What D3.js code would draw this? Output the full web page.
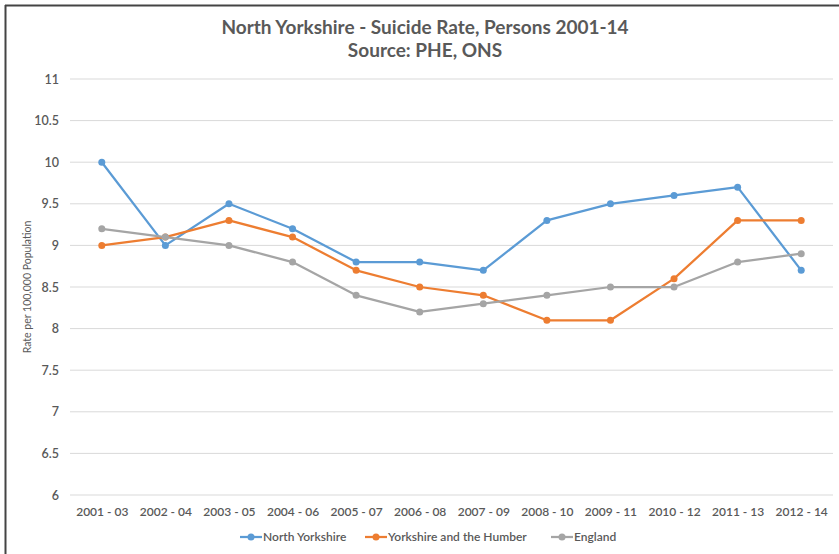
<!DOCTYPE html>
<html>
<head>
<meta charset="utf-8">
<script src="https://cdn.jsdelivr.net/npm/d3@7"></script>
<style>
  html, body { margin: 0; padding: 0; background: #fff; }
  svg { display: block; }
  text { font-family: Lato, "Open Sans", sans-serif; }
</style>
</head>
<body>
<svg id="chart" width="839" height="554"></svg>
<script>
// Rolling three-year periods
const periods = ["2001 - 03", "2002 - 04", "2003 - 05", "2004 - 06", "2005 - 07", "2006 - 08",
                 "2007 - 09", "2008 - 10", "2009 - 11", "2010 - 12", "2011 - 13", "2012 - 14"];

// Suicide rate per 100,000 population
const northYorkshire = [10.0, 9.0, 9.5, 9.2, 8.8, 8.8, 8.7, 9.3, 9.5, 9.6, 9.7, 8.7];
const yorkshireHumber = [9.0, 9.1, 9.3, 9.1, 8.7, 8.5, 8.4, 8.1, 8.1, 8.6, 9.3, 9.3];
const england = [9.2, 9.1, 9.0, 8.8, 8.4, 8.2, 8.3, 8.4, 8.5, 8.5, 8.8, 8.9];

const seriesNames = ["North Yorkshire", "Yorkshire and the Humber", "England"];
const yTicks = [6, 6.5, 7, 7.5, 8, 8.5, 9, 9.5, 10, 10.5, 11];

const series = [
  { name: seriesNames[0], values: northYorkshire, color: "#5B9BD5" },
  { name: seriesNames[1], values: yorkshireHumber, color: "#ED7D31" },
  { name: seriesNames[2], values: england, color: "#A5A5A5" }
];

const svg = d3.select("#chart");
const W = 839, H = 554;
const plot = { left: 70, right: 833, top: 79, bottom: 495 };
const textColor = "#595959";

// Frame lines on top and left
svg.append("line").attr("x1", 5).attr("x2", W).attr("y1", 5.5).attr("y2", 5.5)
  .attr("stroke", "#444").attr("stroke-width", 2);
svg.append("line").attr("x1", 5.5).attr("x2", 5.5).attr("y1", 5).attr("y2", H)
  .attr("stroke", "#444").attr("stroke-width", 2);

// Title
svg.append("text").attr("x", 425).attr("y", 34).attr("text-anchor", "middle")
  .attr("font-size", 19).attr("font-weight", "bold").attr("fill", textColor)
  .text("North Yorkshire - Suicide Rate, Persons 2001-14");
svg.append("text").attr("x", 425).attr("y", 57).attr("text-anchor", "middle")
  .attr("font-size", 19).attr("font-weight", "bold").attr("fill", textColor)
  .text("Source: PHE, ONS");

const x = d3.scalePoint().domain(periods).range([plot.left, plot.right]).padding(0.5);
const y = d3.scaleLinear().domain([6, 11]).range([plot.bottom, plot.top]);

// Gridlines
svg.append("g").selectAll("line").data(yTicks).join("line")
  .attr("x1", plot.left).attr("x2", plot.right)
  .attr("y1", d => y(d)).attr("y2", d => y(d))
  .attr("stroke", "#D9D9D9").attr("stroke-width", 1);

// Y axis labels
const yAxis = d3.axisLeft(y).tickValues(yTicks).tickSize(0).tickPadding(0).tickFormat(d3.format("~g"));
const gy = svg.append("g").attr("transform", `translate(${59},0)`).call(yAxis);
gy.select(".domain").remove();
gy.selectAll("text").attr("font-size", 12.5).attr("font-weight", 600)
  .attr("fill", textColor).attr("font-family", "Lato, sans-serif");

// X axis labels
const xAxis = d3.axisBottom(x).tickSize(0).tickPadding(0);
const gx = svg.append("g").attr("transform", `translate(0,${507})`).call(xAxis);
gx.select(".domain").remove();
gx.selectAll("text").attr("font-size", 12).attr("font-weight", 600)
  .attr("fill", textColor).attr("font-family", "Lato, sans-serif");

// Y axis title
svg.append("text").attr("transform", `translate(31,287) rotate(-90)`)
  .attr("text-anchor", "middle").attr("font-size", 10.5).attr("fill", textColor)
  .text("Rate per 100,000 Population");

// Lines and markers
const line = d3.line().x((d, i) => x(periods[i])).y(d => y(d));
series.forEach(s => {
  svg.append("path").datum(s.values).attr("d", line)
    .attr("fill", "none").attr("stroke", s.color).attr("stroke-width", 2.25)
    .attr("stroke-linejoin", "round").attr("stroke-linecap", "round");
  svg.append("g").selectAll("circle").data(s.values).join("circle")
    .attr("cx", (d, i) => x(periods[i])).attr("cy", d => y(d)).attr("r", 3.5)
    .attr("fill", s.color);
});

// Legend
const legendX = [240, 365, 551];
const lg = svg.append("g");
series.forEach((s, i) => {
  const g = lg.append("g").attr("transform", `translate(${legendX[i]},537)`);
  g.append("line").attr("x1", 0).attr("x2", 22).attr("y1", 0).attr("y2", 0)
    .attr("stroke", s.color).attr("stroke-width", 2.25);
  g.append("circle").attr("cx", 11).attr("cy", 0).attr("r", 3.5).attr("fill", s.color);
  g.append("text").attr("x", 23).attr("y", 0).attr("dy", "0.35em")
    .attr("font-size", 12).attr("font-weight", 600).attr("fill", textColor)
    .text(s.name);
});
</script>
</body>
</html>
